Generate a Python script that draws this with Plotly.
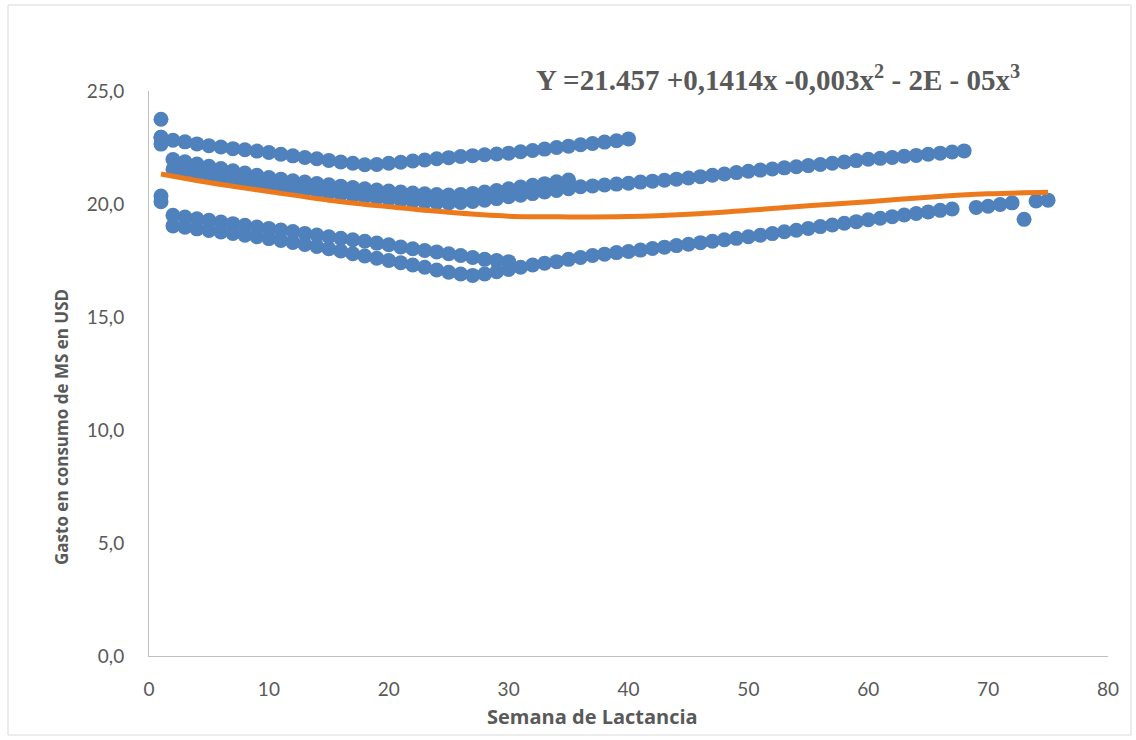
import plotly.graph_objects as go

# ---- data ----
week1_x = [1, 1, 1, 1, 1]
week1_y = [23.75, 22.95, 22.65, 20.35, 20.10]

a_x = list(range(1, 41))
a_y = [22.95, 22.82, 22.75, 22.66, 22.58, 22.52, 22.45, 22.40, 22.34, 22.28,
       22.20, 22.13, 22.06, 22.00, 21.93, 21.86, 21.80, 21.74, 21.75, 21.80,
       21.85, 21.90, 21.95, 22.00, 22.05, 22.10, 22.14, 22.18, 22.21, 22.25,
       22.31, 22.37, 22.43, 22.50, 22.56, 22.62, 22.68, 22.74, 22.80, 22.88]

b1_x = list(range(2, 36))
b1_y = [21.97, 21.87, 21.77, 21.67, 21.57, 21.47, 21.37, 21.27, 21.17, 21.10,
        21.03, 20.97, 20.91, 20.85, 20.79, 20.73, 20.67, 20.62, 20.57, 20.53,
        20.49, 20.45, 20.42, 20.40, 20.42, 20.47, 20.53, 20.60, 20.67, 20.75,
        20.83, 20.90, 20.98, 21.06]

b2_x = list(range(2, 69))
b2_y = [21.54, 21.44, 21.35, 21.26, 21.17, 21.08, 20.99, 20.90, 20.82, 20.75,
        20.68, 20.62, 20.56, 20.50, 20.44, 20.38, 20.32, 20.27, 20.22, 20.17,
        20.13, 20.09, 20.06, 20.05, 20.07, 20.11, 20.17, 20.24, 20.32, 20.39,
        20.46, 20.53, 20.60, 20.68, 20.76, 20.80, 20.84, 20.88, 20.92, 20.97,
        21.01, 21.05, 21.10, 21.15, 21.21, 21.27, 21.33, 21.39, 21.45, 21.50,
        21.55, 21.60, 21.65, 21.70, 21.75, 21.80, 21.86, 21.92, 21.98, 22.02,
        22.06, 22.11, 22.15, 22.20, 22.25, 22.30, 22.35]

c1_x = list(range(2, 31))
c1_y = [19.50, 19.42, 19.35, 19.28, 19.20, 19.13, 19.06, 18.98, 18.92, 18.85,
        18.78, 18.70, 18.63, 18.55, 18.48, 18.42, 18.35, 18.27, 18.20, 18.10,
        18.02, 17.94, 17.88, 17.80, 17.72, 17.63, 17.55, 17.50, 17.45]

c2_x = list(range(2, 68)) + [69, 70, 71, 72, 73, 74, 75]
c2_y = [19.03, 18.97, 18.90, 18.83, 18.76, 18.70, 18.62, 18.55, 18.47, 18.39,
        18.30, 18.21, 18.12, 18.02, 17.92, 17.80, 17.70, 17.60, 17.50, 17.40,
        17.30, 17.20, 17.08, 16.98, 16.90, 16.84, 16.90, 17.00, 17.10, 17.20,
        17.30, 17.38, 17.45, 17.55, 17.63, 17.72, 17.78, 17.85, 17.90, 17.96,
        18.03, 18.09, 18.16, 18.22, 18.29, 18.35, 18.42, 18.48, 18.55, 18.62,
        18.69, 18.77, 18.84, 18.92, 19.00, 19.07, 19.15, 19.22, 19.30, 19.37,
        19.44, 19.51, 19.58, 19.65, 19.72, 19.78,
        19.85, 19.90, 19.98, 20.05, 19.32, 20.13, 20.17]

trend_x = [1, 5, 10, 15, 20, 25, 30, 35, 40, 45, 50, 55, 60, 65, 70, 75]
trend_y = [21.33, 20.95, 20.55, 20.17, 19.88, 19.63, 19.46, 19.43, 19.45,
           19.55, 19.72, 19.92, 20.10, 20.30, 20.45, 20.52]

x_ticks = [0, 10, 20, 30, 40, 50, 60, 70, 80]
y_ticks = [0, 5, 10, 15, 20, 25]
y_tick_labels = ["0,0", "5,0", "10,0", "15,0", "20,0", "25,0"]

equation = "Y =21.457 +0,1414x -0,003x<sup>2</sup> - 2E - 05x<sup>3</sup>"
x_title = "Semana de Lactancia"
y_title = "Gasto en consumo de MS en USD"

# ---- figure ----
BLUE = "#4F81BD"
ORANGE = "#EC7A1C"
GREY = "#595959"

fig = go.Figure()
marker = dict(color=BLUE, size=15, line=dict(width=0))
for xs, ys in [(week1_x, week1_y), (a_x, a_y), (b1_x, b1_y), (b2_x, b2_y),
               (c1_x, c1_y), (c2_x, c2_y)]:
    fig.add_trace(go.Scatter(x=xs, y=ys, mode="markers", marker=marker,
                             showlegend=False, hoverinfo="x+y"))

fig.add_trace(go.Scatter(x=trend_x, y=trend_y, mode="lines",
                         line=dict(color=ORANGE, width=5, shape="spline"),
                         showlegend=False))

W, H = 1136, 740
L, R, T, B = 149, 28, 91, 84
pw, ph = W - L - R, H - T - B

def px_to_paper_x(px):
    return (px - L) / pw

def px_to_paper_y(py):
    return (H - B - py) / ph

fig.update_layout(
    width=W, height=H,
    margin=dict(l=L, r=R, t=T, b=B),
    paper_bgcolor="white", plot_bgcolor="white",
    font=dict(family="Lato, Open Sans, sans-serif", color=GREY, size=16),
    xaxis=dict(range=[0, 80], tickvals=x_ticks, ticktext=[str(v) for v in x_ticks],
               showgrid=False, zeroline=False, showline=True, linecolor="#BFBFBF",
               linewidth=1, ticks="outside", ticklen=16, tickcolor="rgba(0,0,0,0)",
               tickfont=dict(size=19, color=GREY)),
    yaxis=dict(range=[0, 25], tickvals=y_ticks, ticktext=y_tick_labels,
               showgrid=False, zeroline=False, showline=True, linecolor="#BFBFBF",
               linewidth=1, ticks="outside", ticklen=20, tickcolor="rgba(0,0,0,0)",
               tickfont=dict(size=19, color=GREY)),
    shapes=[dict(type="rect", xref="paper", yref="paper",
                 x0=px_to_paper_x(8), x1=px_to_paper_x(1131),
                 y0=px_to_paper_y(735), y1=px_to_paper_y(5),
                 line=dict(color="#D9D9D9", width=1), layer="below")],
    annotations=[
        dict(text="<b>" + equation + "</b>", xref="paper", yref="paper",
             x=px_to_paper_x(778), y=px_to_paper_y(78), showarrow=False,
             xanchor="center", yanchor="middle",
             font=dict(family="Liberation Serif, Times New Roman, serif",
                       size=29, color=GREY)),
        dict(text="<b>" + x_title + "</b>", xref="paper", yref="paper",
             x=px_to_paper_x(592), y=px_to_paper_y(716), showarrow=False,
             xanchor="center", yanchor="middle",
             font=dict(family="Open Sans, Lato, sans-serif", size=20, color=GREY)),
        dict(text="<b>" + y_title + "</b>", xref="paper", yref="paper",
             x=px_to_paper_x(61), y=px_to_paper_y(427), showarrow=False,
             textangle=-90, xanchor="center", yanchor="middle",
             font=dict(family="Open Sans, Lato, sans-serif", size=17, color=GREY)),
    ],
)

fig.write_html("out.html", config={"displayModeBar": False},
               post_script="document.body.style.margin='0';")
